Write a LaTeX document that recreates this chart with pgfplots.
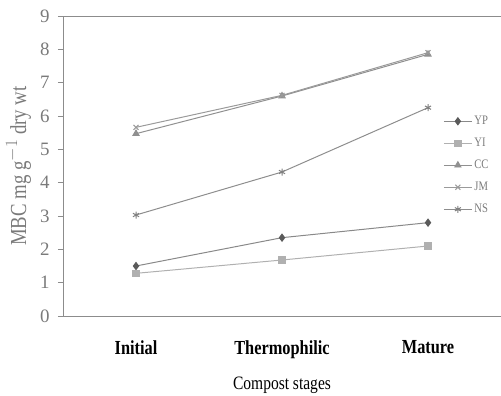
\documentclass[border=0pt]{standalone}
\usepackage{pgfplots}
\pgfplotsset{compat=1.18}
\usepackage{fontspec}
\setmainfont{Liberation Serif}
\newfontfamily\narrowserif[FakeStretch=0.82]{Liberation Serif}
\definecolor{axgray}{HTML}{8C8C8C}
\definecolor{txgray}{HTML}{7A7A7A}
\definecolor{ypc}{HTML}{5A5A5A}
\definecolor{yic}{HTML}{B0B0B0}
\definecolor{ccc}{HTML}{909090}
\definecolor{jmc}{HTML}{9A9A9A}
\definecolor{nsc}{HTML}{808080}
\begin{document}
\begin{tikzpicture}[x=1bp,y=1bp]
\useasboundingbox (-63,-79) rectangle (438,316);
\begin{axis}[
  scale only axis, width=438bp, height=300bp,
  xmin=-0.5, xmax=2.5, ymin=0, ymax=9,
  axis x line*=bottom, axis y line*=left,
  axis line style={axgray, line width=0.9pt},
  ytick={0,...,9},
  xtick={0,1,2},
  xticklabels={Initial,Thermophilic,Mature},
  major x tick style={draw=none},
  extra x ticks={0.5,1.5},
  extra x tick labels={},
  extra x tick style={tick style={axgray, line width=0.8pt}, major tick length=4bp, tick align=outside},
  y tick style={axgray, line width=0.8pt},
  major tick length=5bp, tick align=outside,
  yticklabel style={font=\fontsize{19}{19}\selectfont, text=txgray, xshift=-5bp},
  xticklabel style={font=\narrowserif\fontsize{20}{20}\selectfont\bfseries, text=black, yshift=-16bp},
  /pgf/number format/assume math mode=true,
  ylabel={\narrowserif\fontsize{23}{23}\selectfont MBC mg g$^{-1}$ dry wt},
  ylabel style={text=txgray, yshift=2bp},
  xlabel={\narrowserif\fontsize{19}{19}\selectfont Compost stages},
  xlabel style={text=black, yshift=-3bp},
  clip=false,
  legend style={draw=none, fill=none, at={(rel axis cs:0.868,0.673)}, anchor=north west,
    font=\narrowserif\fontsize{13}{13}\selectfont, text=txgray,
    row sep=8bp, inner sep=0pt},
  legend cell align=left,
  legend image code/.code={\draw[mark repeat=2,mark phase=2] plot coordinates {(0bp,0bp)(14bp,0bp)(28bp,0bp)};},
  every axis plot/.append style={line width=1pt},
]
\addplot[color=ccc!95!black, mark=diamond*, mark size=3.5bp, mark options={fill=ypc, draw=ypc}] coordinates {(0,1.50) (1,2.35) (2,2.80)};
\addlegendentry{YP}
\addplot[color=yic, mark=square*, mark size=3.2bp, mark options={fill=yic, draw=yic}] coordinates {(0,1.28) (1,1.68) (2,2.10)};
\addlegendentry{YI}
\addplot[color=ccc, mark=triangle*, mark size=3.5bp, mark options={fill=ccc, draw=ccc}] coordinates {(0,5.47) (1,6.60) (2,7.85)};
\addlegendentry{CC}
\addplot[color=jmc, mark=x, mark size=3.5bp, mark options={draw=jmc}] coordinates {(0,5.66) (1,6.62) (2,7.90)};
\addlegendentry{JM}
\addplot[color=nsc!90, mark=asterisk, mark size=3.5bp, mark options={draw=nsc}] coordinates {(0,3.03) (1,4.32) (2,6.25)};
\addlegendentry{NS}
\end{axis}
\draw[axgray, line width=0.9pt] (0,300) -- (438,300);
\end{tikzpicture}
\end{document}
